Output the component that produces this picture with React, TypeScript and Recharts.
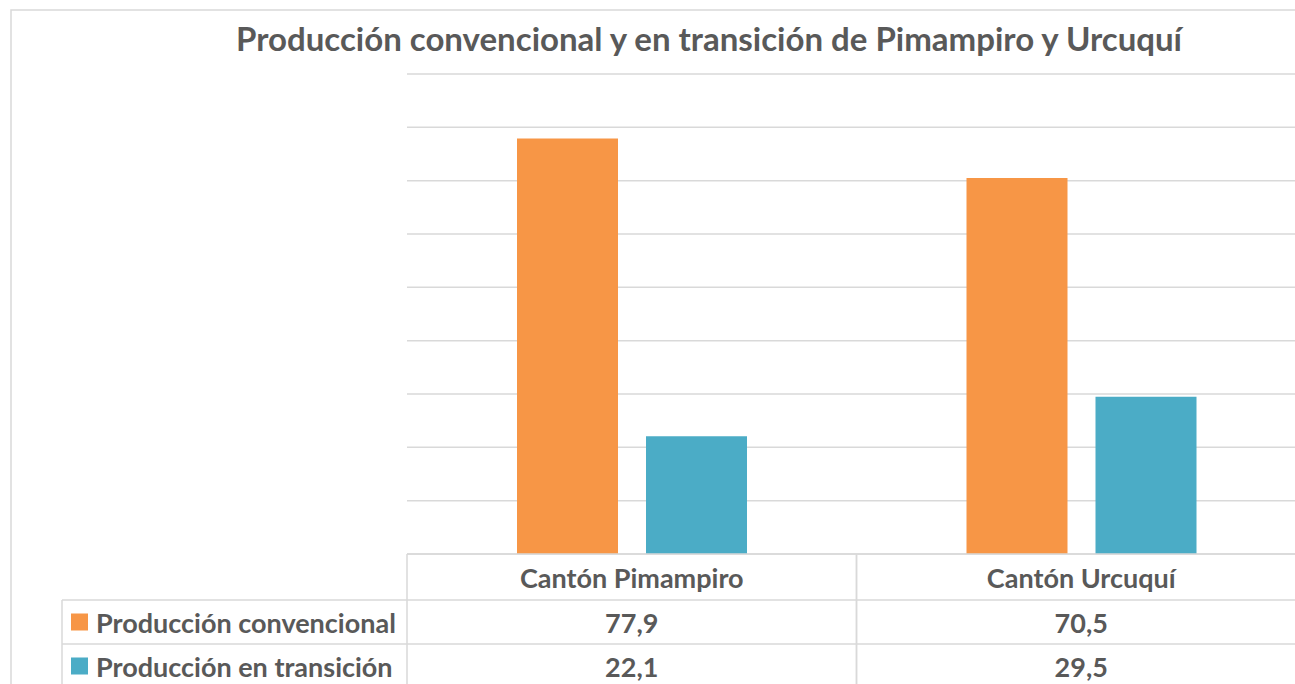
import React from "react";
import { BarChart, Bar, XAxis, YAxis, CartesianGrid, Customized } from "recharts";

const categories = ["Cantón Pimampiro", "Cantón Urcuquí"];
const convencional = [77.9, 70.5];
const transicion = [22.1, 29.5];
const seriesNames = ["Producción convencional", "Producción en transición"];
const seriesColors = ["#F79646", "#4BACC6"];
const yTicks = [0, 10, 20, 30, 40, 50, 60, 70, 80, 90];
const title = "Producción convencional y en transición de Pimampiro y Urcuquí";

const data = categories.map((c, i) => ({ name: c, conv: convencional[i], trans: transicion[i] }));

const W = 1320;
const H = 720;
const PLOT_LEFT = 407;
const PLOT_RIGHT = 1306;
const PLOT_TOP = 74;
const PLOT_BOTTOM = 554;
const ROW1 = 600;
const ROW2 = 644;
const ROW3 = 690;
const LEG_LEFT = 62;
const GRID = "#d9d9d9";
const TXT = "#595959";
const FONT = "Lato, 'Open Sans', sans-serif";
const FS = 27;

const fmt = (v: number) => v.toFixed(1).replace(".", ",");

const TableTick = (props: any) => {
  const { x, payload, index } = props;
  const band = (PLOT_RIGHT - PLOT_LEFT) / categories.length;
  const left = x - band / 2;
  const right = x + band / 2;
  return (
    <g>
      <line x1={left} y1={PLOT_BOTTOM} x2={left} y2={H} stroke={GRID} strokeWidth={1.5} />
      <line x1={right} y1={PLOT_BOTTOM} x2={right} y2={H} stroke={GRID} strokeWidth={1.5} />
      <text x={x} y={(PLOT_BOTTOM + ROW1) / 2} textAnchor="middle" dominantBaseline="central"
        fontFamily={FONT} fontWeight={700} fontSize={FS} fill={TXT}>{payload.value}</text>
      <text x={x} y={(ROW1 + ROW2) / 2} textAnchor="middle" dominantBaseline="central"
        fontFamily={FONT} fontWeight={700} fontSize={FS} fill={TXT}>{fmt(convencional[index])}</text>
      <text x={x} y={(ROW2 + ROW3) / 2 - 1} textAnchor="middle" dominantBaseline="central"
        fontFamily={FONT} fontWeight={700} fontSize={FS} fill={TXT}>{fmt(transicion[index])}</text>
    </g>
  );
};

const Decor = () => (
  <g>
    <rect x={11} y={10} width={W} height={H} fill="none" stroke={GRID} strokeWidth={1.5} />
    <text x={709} y={38} textAnchor="middle" dominantBaseline="central" fontFamily={FONT}
      fontWeight={700} fontSize={33} fill={TXT}>{title}</text>
    <line x1={LEG_LEFT} y1={ROW1} x2={W} y2={ROW1} stroke={GRID} strokeWidth={1.5} />
    <line x1={LEG_LEFT} y1={ROW2} x2={W} y2={ROW2} stroke={GRID} strokeWidth={1.5} />
    <line x1={LEG_LEFT} y1={ROW1} x2={LEG_LEFT} y2={H} stroke={GRID} strokeWidth={1.5} />
    {seriesNames.map((n, i) => {
      const cy = i === 0 ? (ROW1 + ROW2) / 2 : (ROW2 + ROW3) / 2 - 1;
      return (
        <g key={n}>
          <rect x={71} y={cy - 8.5} width={17} height={17} fill={seriesColors[i]} />
          <text x={96} y={cy} dominantBaseline="central" fontFamily={FONT} fontWeight={700}
            fontSize={FS} fill={TXT}>{n}</text>
        </g>
      );
    })}
  </g>
);

export default function App() {
  return (
    <div style={{ position: "fixed", left: 0, top: 0, width: 1295, height: 684, overflow: "hidden", background: "#fff" }}>
      <BarChart width={W} height={H} data={data}
        margin={{ top: PLOT_TOP, left: PLOT_LEFT, right: W - PLOT_RIGHT, bottom: 0 }}
        barGap={28} barSize={101}>
        <CartesianGrid horizontal vertical={false} stroke={GRID} strokeWidth={1.5} />
        <YAxis hide width={0} domain={[0, 90]} ticks={yTicks} />
        <XAxis dataKey="name" height={H - PLOT_BOTTOM} tickLine={false}
          axisLine={{ stroke: GRID, strokeWidth: 1.5 }} tick={<TableTick />} interval={0} />
        <Bar dataKey="conv" name={seriesNames[0]} fill={seriesColors[0]} isAnimationActive={false} />
        <Bar dataKey="trans" name={seriesNames[1]} fill={seriesColors[1]} isAnimationActive={false} />
        <Customized component={Decor} />
      </BarChart>
    </div>
  );
}
